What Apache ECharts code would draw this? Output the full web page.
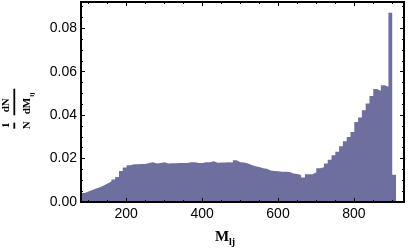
<!DOCTYPE html>
<html>
<head>
    <meta charset="utf-8">
    <title>M_lj histogram</title>
    <script src="https://cdn.jsdelivr.net/npm/echarts@6/dist/echarts.min.js"></script>
    <style>
        html, body {margin: 0; padding: 0; background: #fff;}
        #main {width: 408px; height: 250px;}
    </style>
</head>
<body>
<div id="main"></div>
<script type="text/javascript">
    // histogram bins: first lower edge and width (GeV)
    var firstEdge = 81;
    var binWidth = 10;
    // normalised counts 1/N dN/dM_lj, one per bin
    var binValues = [
        0.0042, 0.0048, 0.0055, 0.0062, 0.0068, 0.0076, 0.0085, 0.0094, 0.0104, 0.0115,
        0.0143, 0.0159, 0.0169, 0.0174, 0.0174, 0.0175, 0.0175, 0.0180, 0.0183, 0.0177,
        0.0180, 0.0183, 0.0177, 0.0179, 0.0179, 0.0180, 0.0180, 0.0180, 0.0183, 0.0183,
        0.0180, 0.0180, 0.0183, 0.0183, 0.0188, 0.0181, 0.0182, 0.0182, 0.0183, 0.0182,
        0.0192, 0.0183, 0.0182, 0.0177, 0.0170, 0.0165, 0.0161, 0.0155, 0.0153, 0.0145,
        0.0143, 0.0142, 0.0139, 0.0139, 0.0138, 0.0131, 0.0129, 0.0124, 0.0113, 0.0128,
        0.0128, 0.0137, 0.0155, 0.0160, 0.0177, 0.0194, 0.0215, 0.0231, 0.0257, 0.0280,
        0.0299, 0.0322, 0.0368, 0.0389, 0.0423, 0.0454, 0.0488, 0.0520, 0.0512, 0.0538,
        0.0531, 0.0872, 0.0126
    ];
    var xMajorTicks = [200, 400, 600, 800];
    var xMinorTicks = [100, 150, 250, 300, 350, 450, 500, 550, 650, 700, 750, 850, 900];
    var yMajorTicks = [0, 0.02, 0.04, 0.06, 0.08];
    var yMinorTicks = [0.005, 0.01, 0.015, 0.025, 0.03, 0.035, 0.045, 0.05, 0.055,
                       0.065, 0.07, 0.075, 0.085, 0.09];

    var xMin = 81, xMax = 932;
    var yMin = 0, yMax = 0.0921;

    var barColor = '#6e6f9f';
    var labelFont = 'Liberation Sans';
    var titleFont = 'Liberation Serif';

    // step outline: each bin starts at its lower edge, last point closes the final bin
    var stepPoints = binValues.map(function (v, i) {
        return [firstEdge + i * binWidth, v];
    });
    stepPoints.push([firstEdge + binValues.length * binWidth, binValues[binValues.length - 1]]);

    function xAxisDef(pos, ticks, len, withLabels) {
        return {
            type: 'value', position: pos, min: xMin, max: xMax, z: 5,
            axisLine: {show: true, onZero: false, lineStyle: {color: '#000', width: 2}},
            axisTick: {show: true, inside: true, length: len, customValues: ticks,
                       lineStyle: {color: '#000', width: 1}},
            axisLabel: withLabels ? {show: true, customValues: ticks, margin: 5,
                       color: '#000', fontFamily: labelFont, fontSize: 14} : {show: false},
            splitLine: {show: false}
        };
    }
    function yAxisDef(pos, ticks, len, withLabels) {
        return {
            type: 'value', position: pos, min: yMin, max: yMax, z: 5,
            axisLine: {show: true, onZero: false, lineStyle: {color: '#000', width: 2}},
            axisTick: {show: true, inside: true, length: len, customValues: ticks,
                       lineStyle: {color: '#000', width: 1}},
            axisLabel: withLabels ? {show: true, customValues: ticks, margin: 4,
                       color: '#000', fontFamily: labelFont, fontSize: 14,
                       formatter: function (v) { return v.toFixed(2); }} : {show: false},
            splitLine: {show: false}
        };
    }

    var chart = echarts.init(document.getElementById('main'));
    chart.setOption({
        animation: false,
        grid: {left: 81, right: 4, top: 2, bottom: 48},
        xAxis: [
            xAxisDef('bottom', xMajorTicks, 4, true),
            xAxisDef('bottom', xMinorTicks, 2, false),
            xAxisDef('top', xMajorTicks, 4, false),
            xAxisDef('top', xMinorTicks, 2, false)
        ],
        yAxis: [
            yAxisDef('left', yMajorTicks, 4, true),
            yAxisDef('left', yMinorTicks, 2, false),
            yAxisDef('right', yMajorTicks, 4, false),
            yAxisDef('right', yMinorTicks, 2, false)
        ],
        series: [{
            type: 'line',
            xAxisIndex: 0,
            yAxisIndex: 0,
            step: 'end',
            showSymbol: false,
            symbol: 'none',
            data: stepPoints,
            lineStyle: {width: 0, color: barColor},
            itemStyle: {color: barColor},
            areaStyle: {color: barColor, opacity: 1}
        }],
        graphic: [
            // x axis title: M_lj
            {type: 'text', x: 222, y: 237, style: {text: 'M', fill: '#000',
                font: 'bold 15px "' + titleFont + '"', textAlign: 'center', textVerticalAlign: 'middle'}},
            {type: 'text', x: 229, y: 242, style: {text: 'lj', fill: '#000',
                font: 'bold 10px "' + titleFont + '"', textAlign: 'left', textVerticalAlign: 'middle'}},
            // y axis title: 1/N dN/dM_lj, rotated
            {
                type: 'group', x: 14.3, y: 110, rotation: Math.PI / 2,
                children: [
                    {type: 'text', x: -15.3, y: -8, style: {text: '1', fill: '#000',
                        font: 'bold 11px "' + titleFont + '"', textAlign: 'center', textVerticalAlign: 'middle'}},
                    {type: 'line', shape: {x1: -18.7, y1: 0, x2: -12.7, y2: 0},
                        style: {stroke: '#000', lineWidth: 1.8}},
                    {type: 'text', x: -15.3, y: 12.4, style: {text: 'N', fill: '#000',
                        font: 'bold 11px "' + titleFont + '"', textAlign: 'center', textVerticalAlign: 'middle'}},
                    {type: 'text', x: 4.7, y: -8, style: {text: 'dN', fill: '#000',
                        font: 'bold 11px "' + titleFont + '"', textAlign: 'center', textVerticalAlign: 'middle'}},
                    {type: 'line', shape: {x1: -5.3, y1: 0, x2: 21.3, y2: 0},
                        style: {stroke: '#000', lineWidth: 1.8}},
                    {type: 'text', x: 3.9, y: 12.4, style: {text: 'dM', fill: '#000',
                        font: 'bold 11px "' + titleFont + '"', textAlign: 'center', textVerticalAlign: 'middle'}},
                    {type: 'text', x: 13.2, y: 17.5, style: {text: 'lj', fill: '#000',
                        font: 'bold 7px "' + titleFont + '"', textAlign: 'left', textVerticalAlign: 'middle'}}
                ]
            }
        ]
    });
</script>
</body>
</html>
